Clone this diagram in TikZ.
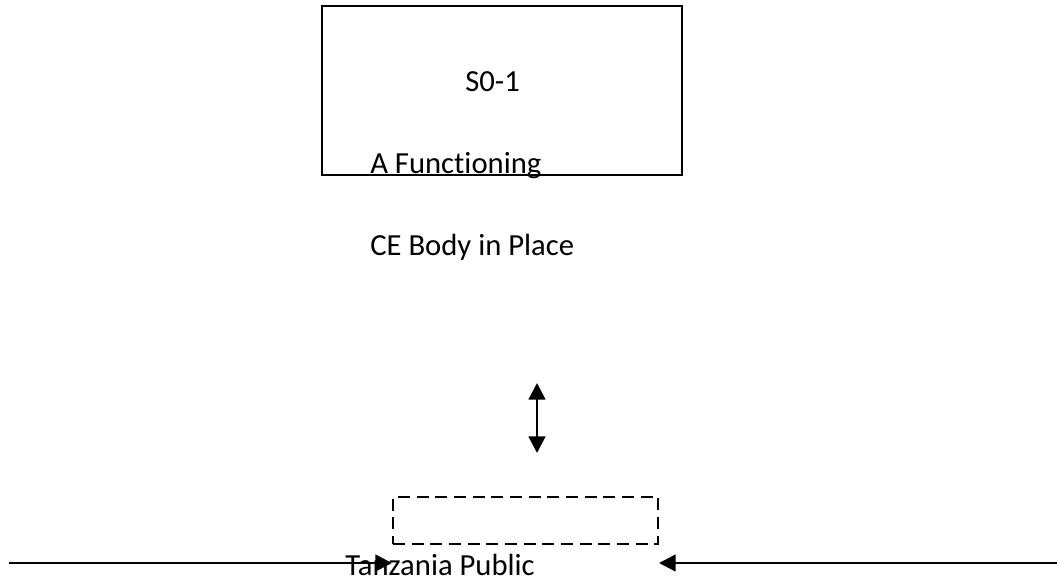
\documentclass[tikz,border=0pt]{standalone}
\usepackage{fontspec}
\setmainfont{Carlito}[Ligatures=NoCommon]
\usetikzlibrary{arrows.meta}
\usetikzlibrary{positioning}

\begin{document}
\begin{tikzpicture}[line cap=butt,line join=miter,>={Triangle[length=12.5pt,width=12.5pt]},x=0.75pt,y=-0.75pt,
  txt/.style={anchor=base west,inner sep=0pt,font=\fontsize{23}{27}\selectfont}]
\useasboundingbox (0,0) rectangle (1057,581);
% goal box
\node [draw,line width=1.5pt,minimum width=270pt,minimum height=126.75pt,inner sep=0pt] (goal) at (502,90.5) {};
\node [txt] (goalnum) at (465,92) {S0-1};
\node [txt] (goaltxt1) at (370,174) {A Functioning};
\node [txt] (goaltxt2) at (370,255) {CE Body in Place};
% link arrow
\coordinate (linktop) at (537,383);
\coordinate (linkbot) at (537,453);
\draw [<->,line width=1.9pt] (linktop) -- (linkbot);
% dashed box
\node [draw,dashed,dash pattern=on 9pt off 5pt,line width=1.5pt,minimum width=198.75pt,minimum height=35.25pt,inner sep=0pt] (public) at (525.5,520.5) {};
\node [txt] (publictxt) at (345,575) {Tanzania Public};
% side arrows
\coordinate (leftend) at (9,563);
\coordinate (rightend) at (1057,563);
\draw [->,line width=1.9pt] (leftend) -- (public.west |- leftend);
\draw [->,line width=1.9pt] (rightend) -- (public.east |- rightend);
\end{tikzpicture}
\end{document}
